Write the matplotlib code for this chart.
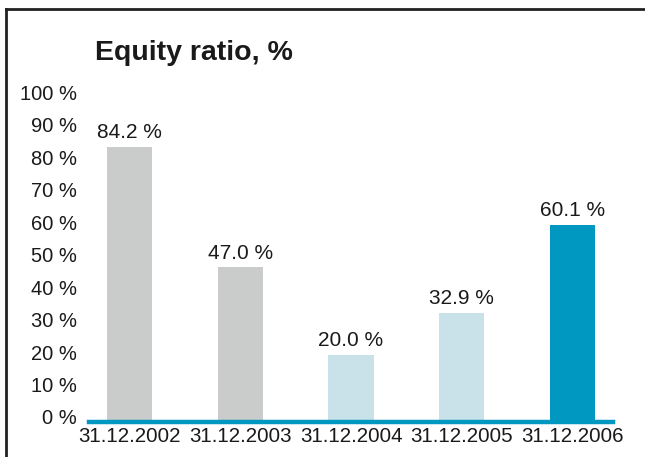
import matplotlib
matplotlib.use("Agg")
import matplotlib.pyplot as plt
from matplotlib.lines import Line2D
from matplotlib.transforms import ScaledTranslation

plt.rcParams['font.family'] = ['Liberation Sans', 'DejaVu Sans']

categories = ["31.12.2002", "31.12.2003", "31.12.2004", "31.12.2005", "31.12.2006"]
values = [84.2, 47.0, 20.0, 32.9, 60.1]
labels = ["84.2 %", "47.0 %", "20.0 %", "32.9 %", "60.1 %"]
colors = ["#cacbcb", "#cacbcb", "#c9e2ea", "#c9e2ea", "#0097c1"]
yticks = [0, 10, 20, 30, 40, 50, 60, 70, 80, 90, 100]
ytick_labels = [f"{v} %" for v in yticks]

W, H = 645, 457
fig = plt.figure(figsize=(W / 100, H / 100), dpi=100)
ax = fig.add_axes([89 / W, 1 - 420 / H, (613 - 89) / W, (420 - 95.5) / H])

x = list(range(len(categories)))
ax.bar(x, values, width=0.41, color=colors, zorder=2)
for xi, v, lab in zip(x, values, labels):
    ax.annotate(lab, (xi, v), xytext=(0, 3.5), textcoords="offset points",
                ha="center", va="bottom", fontsize=15, color="#1a1a1a", clip_on=False)

ax.set_xlim(-0.366, 4.366)
ax.set_ylim(0, 100)
ax.set_xticks(x)
ax.set_xticklabels(categories, fontsize=14.8, color="#1a1a1a")
ax.set_yticks(yticks)
ax.set_yticklabels(ytick_labels, fontsize=14.5, color="#1a1a1a")
ax.tick_params(axis="x", length=0, pad=5)
ax.tick_params(axis="y", length=0, pad=9)
up = ScaledTranslation(0, 3 / 100, fig.dpi_scale_trans)
for lab in ax.get_yticklabels():
    lab.set_transform(lab.get_transform() + up)
for s in ax.spines.values():
    s.set_visible(False)
down = ScaledTranslation(0, -2 / 100, fig.dpi_scale_trans)
base = ax.axhline(0, color="#0097c1", linewidth=3.2, zorder=3, clip_on=False)
base.set_transform(base.get_transform() + down)

fig.text(95 / W, 1 - 60 / H, "Equity ratio, %", fontsize=20.5, fontweight="bold",
         ha="left", va="baseline", color="#1a1a1a")

# frame
fig.add_artist(Line2D([5.5 / W, 1.0], [1 - 8.7 / H, 1 - 8.7 / H], transform=fig.transFigure,
                      color="#222222", linewidth=2.0))
fig.add_artist(Line2D([6 / W, 6 / W], [0, 1 - 8.7 / H], transform=fig.transFigure,
                      color="#222222", linewidth=2.0))

fig.savefig("out.png", dpi=100)
